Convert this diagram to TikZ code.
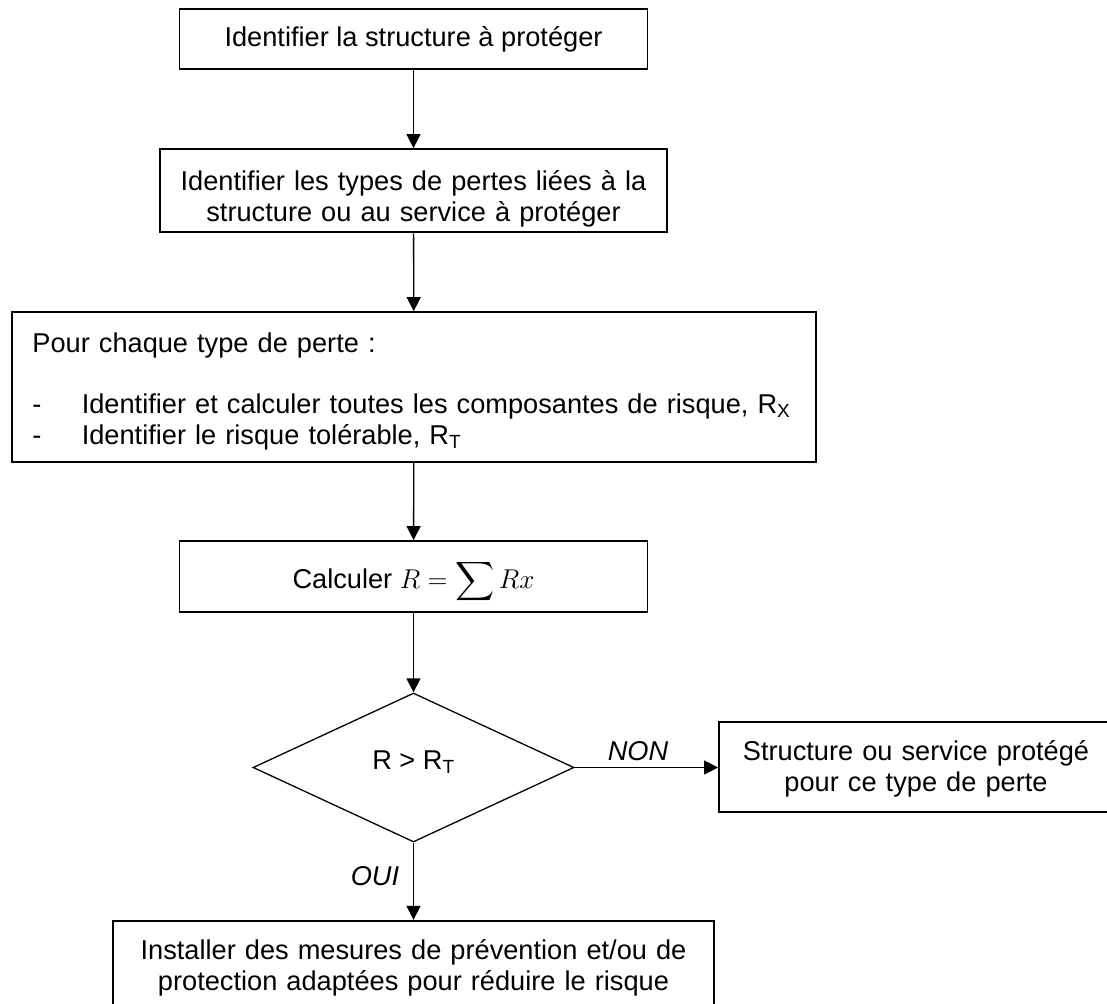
\RequirePackage{fix-cm}
\documentclass[tikz,border=0pt]{standalone}
\usepackage{fontspec}
\setmainfont{Liberation Sans}
\DeclareFontShape{OMX}{cmex}{m}{n}{<->cmex10}{}
\usetikzlibrary{shapes.geometric,arrows.meta}
\newcommand\mainfs{\fontsize{27.2pt}{31pt}\selectfont}
\tikzset{
  box/.style={draw=black, line width=1.8pt, rectangle, inner sep=0pt, align=center, font=\mainfs},
  decision/.style={draw=black, line width=1.3pt, diamond, inner sep=0pt, align=center, font=\mainfs},
  conn/.style={draw=black, line width=1.3pt, -{Triangle[length=14pt,width=14pt]}},
  lbl/.style={font=\mainfs\itshape, inner sep=0pt, anchor=base},
}
\begin{document}
\begin{tikzpicture}[x=1pt,y=-1pt]
\path[use as bounding box] (0,0) rectangle (1107,1003);
\clip (0,0) rectangle (1107,1003);

\node[box, minimum width=468pt, minimum height=60pt, text height=20pt, text depth=5.2pt]
  (b1) at (413.5,39.3) {Identifier la structure à protéger};

\node[box, minimum width=507pt, minimum height=83.3pt, text width=495pt, text height=20pt, text depth=20pt]
  (b2) at (413.5,190.7) {Identifier les types de pertes liées à la\\structure ou au service à protéger};

\node[box, align=left, minimum width=804.3pt, minimum height=149.7pt, text width=763pt, text height=20pt, text depth=89.8pt]
  (b3) at (413.9,386.9) {Pour chaque type de perte :\\[30.5pt]
  \makebox[49.4pt][l]{-}\mbox{Identifier et calculer toutes les composantes de risque, R\textsubscript{X}}\\
  \makebox[49.4pt][l]{-}Identifier le risque tolérable, R\textsubscript{T}};

\node[box, minimum width=468pt, minimum height=71pt, text height=26pt, text depth=2.4pt]
  (b4) at (413.5,576.5) {Calculer $\displaystyle R = \sum Rx$};

\node[decision, minimum width=321pt, minimum height=149pt, text height=20pt, text depth=16.4pt]
  (d) at (413.5,767.5) {R > R\textsubscript{T}};

\node[box, minimum width=394pt, minimum height=90pt, text width=380pt, text height=20pt, text depth=34pt]
  (b5) at (916,767) {Structure ou service protégé\\pour ce type de perte};

\node[box, minimum width=601.3pt, minimum height=98.6pt, text width=590pt, text height=20pt, text depth=41pt]
  (b6) at (413.5,970) {Installer des mesures de prévention et/ou de\\protection adaptées pour réduire le risque};

\node[lbl] (non) at (638,760) {NON};
\node[lbl] (oui) at (375,885) {OUI};

\draw[conn] (b1) -- (b2);
\draw[conn] (b2) -- (b3);
\draw[conn] (b3) -- (b4);
\draw[conn] (b4) -- (d);
\draw[conn] (d) -- (b6);
\draw[conn] (d.east) -- (d.east -| b5.west);
\end{tikzpicture}
\end{document}
